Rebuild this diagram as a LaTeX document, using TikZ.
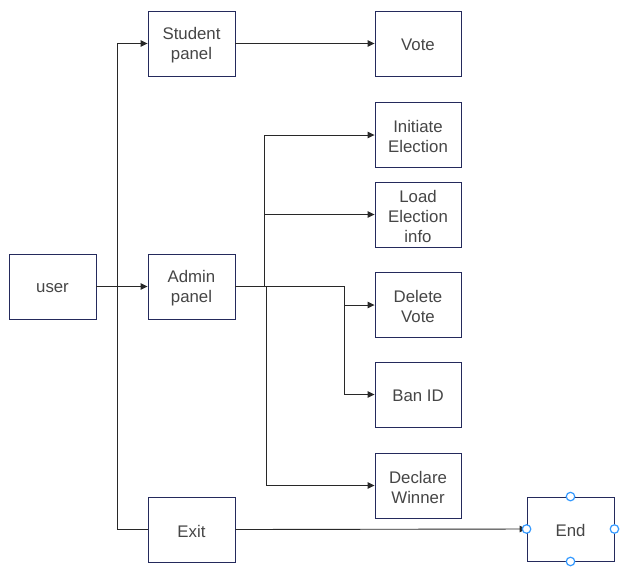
\documentclass[tikz,border=0pt]{standalone}
\usepackage{fontspec}
\setmainfont{Liberation Sans}
\usetikzlibrary{arrows.meta}
\definecolor{boxline}{RGB}{36,42,92}
\definecolor{conn}{RGB}{40,40,40}
\definecolor{txt}{RGB}{70,70,70}
\definecolor{handle}{RGB}{51,153,255}
\tikzset{
  blk/.style={draw=boxline, line width=0.9pt, fill=white, minimum width=87pt, minimum height=65pt,
    inner sep=0pt, align=center, text=txt, font=\fontsize{16.8}{20}\selectfont},
  lbl/.style={text=txt, align=center, font=\fontsize{16.8}{20}\selectfont, inner sep=0pt},
  link/.style={draw=conn, line width=0.9pt},
  arr/.style={link, -{Triangle[length=7pt,width=6.5pt]}},
  hnd/.style={circle, draw=handle, fill=white, line width=1.2pt, minimum size=8.5pt, inner sep=0pt}
}
\begin{document}
\begin{tikzpicture}[x=1pt,y=-1pt]
\useasboundingbox (0,0) rectangle (639,566);
\node[blk] (user) at (52.5,286.5) {};
\node[blk] (admin) at (191.5,286.5) {};
\node[blk] (student) at (191.5,43.5) {};
\node[blk, minimum width=86pt] (vote) at (418,43.5) {};
\node[blk, minimum width=86pt] (initiate) at (418,135) {};
\node[blk, minimum width=86pt] (load) at (418,214.5) {};
\node[blk, minimum width=86pt] (delete) at (418,305) {};
\node[blk, minimum width=86pt] (ban) at (418,394.5) {};
\node[blk, minimum width=86pt] (declare) at (418,485.5) {};
\node[blk] (exit) at (191.5,529.5) {};
\node[blk, minimum height=64pt] (end) at (570.5,529) {};

\node[lbl, yshift=-1.5pt] (tuser) at (user) {user};
\node[lbl, yshift=-1.5pt] (tadmin) at (admin) {Admin\\panel};
\node[lbl, yshift=-1.5pt] (tstudent) at (student) {Student\\panel};
\node[lbl, yshift=-1.5pt] (tvote) at (vote) {Vote};
\node[lbl, yshift=-1.5pt] (tinit) at (initiate) {Initiate\\Election};
\node[lbl, yshift=-1.5pt] (tload) at (load) {Load\\Election\\info};
\node[lbl, yshift=-1.5pt] (tdel) at (delete) {Delete\\Vote};
\node[lbl, yshift=-1.5pt] (tban) at (ban) {Ban ID};
\node[lbl, yshift=-1.5pt] (tdecl) at (declare) {Declare\\Winner};
\node[lbl, yshift=-1.5pt] (texit) at (exit) {Exit};
\node[lbl, yshift=-1.5pt] (tend) at (end) {End};

\coordinate (trunkA) at (264.5,286.5);
\coordinate (trunkB) at (266,286.5);
\coordinate (trunkC) at (344.5,286.5);
\coordinate (loadJ) at (264.5,214.5);
\coordinate (banJ) at (344.5,305);

\draw[arr] (user.east) -- (admin.west);
\draw[arr] (exit.west) -- ++(-30,0) |- (student.west);
\draw[arr] (student.east) -- (vote.west);
\draw[link] (admin.east) -- (trunkC);
\draw[arr] (trunkA) |- (initiate.west);
\draw[arr] (loadJ) -- (load.west);
\draw[arr] (trunkC) |- (delete.west);
\draw[arr] (banJ) |- (ban.west);
\draw[arr] (trunkB) |- (declare.west);
\draw[arr] (exit.east) -- (end.west);

\node[hnd] (h1) at (end.north) {};
\node[hnd] (h2) at (end.south) {};
\node[hnd] (h3) at (end.east) {};
\node[hnd] (h4) at (end.west) {};
\end{tikzpicture}
\end{document}
